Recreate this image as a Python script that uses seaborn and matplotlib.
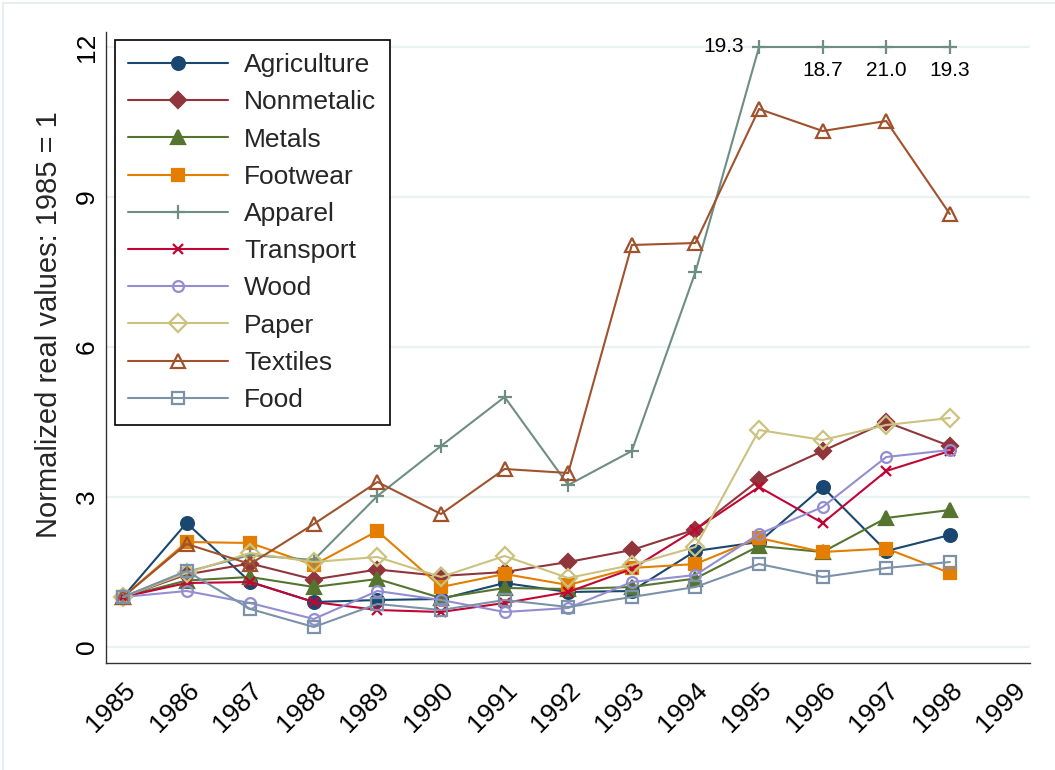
import numpy as np
import pandas as pd
import matplotlib
matplotlib.use("Agg")
import matplotlib.pyplot as plt
import seaborn as sns

years = list(range(1985, 1999))
agriculture = [1.0, 2.48, 1.30, 0.90, 0.94, 0.96, 1.28, 1.10, 1.12, 1.92, 2.10, 3.20, 1.92, 2.24]
nonmetalic = [1.0, 1.45, 1.67, 1.35, 1.55, 1.42, 1.50, 1.70, 1.94, 2.35, 3.34, 3.92, 4.50, 4.02]
metals = [1.0, 1.33, 1.40, 1.20, 1.36, 0.98, 1.18, 1.16, 1.20, 1.37, 2.02, 1.90, 2.58, 2.74]
footwear = [1.0, 2.10, 2.08, 1.64, 2.32, 1.20, 1.46, 1.24, 1.58, 1.66, 2.18, 1.90, 1.97, 1.48]
apparel = [1.0, 1.50, 1.84, 1.74, 3.02, 4.02, 5.00, 3.24, 3.92, 7.50, 19.3, 18.7, 21.0, 19.3]
transport = [1.0, 1.28, 1.30, 0.90, 0.74, 0.70, 0.88, 1.10, 1.56, 2.35, 3.20, 2.48, 3.52, 3.92]
wood = [1.0, 1.12, 0.88, 0.56, 1.12, 0.94, 0.70, 0.78, 1.30, 1.44, 2.26, 2.80, 3.80, 3.94]
paper = [1.0, 1.48, 1.88, 1.70, 1.80, 1.40, 1.82, 1.38, 1.64, 2.00, 4.34, 4.14, 4.44, 4.58]
textiles = [1.0, 2.06, 1.66, 2.46, 3.30, 2.66, 3.56, 3.48, 8.04, 8.08, 10.76, 10.32, 10.52, 8.66]
food = [1.0, 1.52, 0.76, 0.40, 0.86, 0.74, 0.94, 0.80, 1.00, 1.20, 1.66, 1.40, 1.58, 1.70]

series_names = ["Agriculture", "Nonmetalic", "Metals", "Footwear", "Apparel",
                "Transport", "Wood", "Paper", "Textiles", "Food"]
series_values = [agriculture, nonmetalic, metals, footwear, apparel,
                 transport, wood, paper, textiles, food]
y_ticks = [0, 3, 6, 9, 12]
x_ticks = list(range(1985, 2000))
y_cap = 12

styles = {
    "Agriculture": dict(color="#1a476f", marker="o", ms=9.2, mfc="#1a476f"),
    "Nonmetalic": dict(color="#90353b", marker="D", ms=8.2, mfc="#90353b"),
    "Metals": dict(color="#55752f", marker="^", ms=10.5, mfc="#55752f"),
    "Footwear": dict(color="#e37e00", marker="s", ms=9.2, mfc="#e37e00"),
    "Apparel": dict(color="#6e8e84", marker="+", ms=9.4, mfc="#6e8e84"),
    "Transport": dict(color="#c10534", marker="x", ms=7.0, mfc="#c10534"),
    "Wood": dict(color="#938dd2", marker="o", ms=7.8, mfc="none"),
    "Paper": dict(color="#cac27e", marker="D", ms=8.8, mfc="none"),
    "Textiles": dict(color="#a0522d", marker="^", ms=10.0, mfc="none"),
    "Food": dict(color="#7b92a8", marker="s", ms=8.6, mfc="none"),
}

sns.set_style("white")
plt.rcParams["font.family"] = ["Liberation Sans", "DejaVu Sans"]

fig = plt.figure(figsize=(10.55, 7.7), dpi=100)
ax = fig.add_axes([106 / 1055, 1 - 663 / 770, (1030 - 106) / 1055, (663 - 32) / 770])

for name, vals in zip(series_names, series_values):
    st = styles[name]
    df = pd.DataFrame({"year": years, "value": np.minimum(np.array(vals), y_cap)})
    sns.lineplot(data=df, x="year", y="value", ax=ax, color=st["color"],
                 marker=st["marker"], markersize=st["ms"],
                 markerfacecolor=st["mfc"], markeredgecolor=st["color"],
                 markeredgewidth=1.6, linewidth=1.5, label=name, zorder=3)

# labels for capped Apparel values
for yr, v in zip(years, apparel):
    if v > y_cap:
        if yr == 1995:
            ax.annotate(f"{v:.1f}", (yr, y_cap), xytext=(-11, 0), textcoords="offset points",
                        ha="right", va="center", fontsize=15, color="black")
        else:
            ax.annotate(f"{v:.1f}", (yr, y_cap), xytext=(0, -17), textcoords="offset points",
                        ha="center", va="center", fontsize=15, color="black")

ax.set_xlim(1984.733, 1999.26)
ax.set_ylim(-0.32, 12.3)
ax.set_yticks(y_ticks)
ax.set_yticklabels([str(t) for t in y_ticks])
ax.set_xticks(x_ticks)
ax.set_xticklabels([str(t) for t in x_ticks])
ax.tick_params(axis="both", direction="out", length=7, width=1, color="#333333",
               labelsize=19, labelcolor="black")
ax.tick_params(axis="x", pad=4)
ax.tick_params(axis="y", pad=7)
plt.setp(ax.get_yticklabels(), rotation=90, va="center", ha="center", rotation_mode="default")
plt.setp(ax.get_xticklabels(), rotation=45, ha="right", rotation_mode="anchor")
ax.grid(axis="y", color="#eaf2f3", linewidth=1.6, zorder=0)
ax.grid(axis="x", visible=False)
ax.set_axisbelow(True)
for s in ["top", "right"]:
    ax.spines[s].set_visible(False)
for s in ["left", "bottom"]:
    ax.spines[s].set_color("#333333")
    ax.spines[s].set_linewidth(1.0)

ax.set_xlabel("")
ax.set_ylabel("Normalized real values: 1985 = 1", fontsize=21)
ax.yaxis.set_label_coords(-0.0465, 0.536)

leg = ax.legend(loc="upper left", bbox_to_anchor=(9 / 924, 1 - 8 / 631),
                borderaxespad=0, fontsize=19, handlelength=3.8, handletextpad=0.6,
                labelspacing=0.5, borderpad=0.5, frameon=True, fancybox=False,
                framealpha=1, edgecolor="black")
leg.get_frame().set_linewidth(1.2)

# faint outer border (left and top)
fig.add_artist(plt.Line2D([3 / 1055, 3 / 1055], [0, 1 - 3 / 770], transform=fig.transFigure,
                          color="#e8eff2", linewidth=1.5))
fig.add_artist(plt.Line2D([3 / 1055, 1], [1 - 3 / 770, 1 - 3 / 770], transform=fig.transFigure,
                          color="#e8eff2", linewidth=1.5))

fig.savefig("out.png", dpi=100)
